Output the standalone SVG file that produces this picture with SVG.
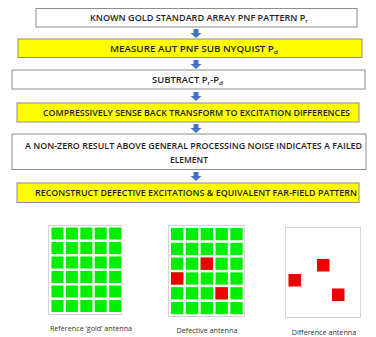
<svg xmlns="http://www.w3.org/2000/svg" width="376" height="337" viewBox="0 0 376 337">
<style>
.box{stroke:#8c8c8c;stroke-width:1}
.w{fill:#ffffff}
.y{fill:#ffff00}
.t{font-family:"Open Sans","Liberation Sans",Arial,sans-serif;font-size:8.2px;font-weight:600;fill:#1e1e1e}
.sub{font-size:5.5px}
.cap{font-family:"Open Sans","Liberation Sans",sans-serif;font-size:7.2px;fill:#333}
.g{fill:#00ee00}
.r{fill:#ee0000}
.frame{fill:#fff;stroke:#d4d4d4;stroke-width:1}
.arr{fill:#4472c4}
</style>
<defs>
<path id="dn" d="M-2.5,0 H2.5 V4 H5.5 L0,9 L-5.5,4 H-2.5 Z"/>
<g id="row5">
<rect class="g" x="0" y="0" width="12" height="12"/>
<rect class="g" x="14.4" y="0" width="12" height="12"/>
<rect class="g" x="28.8" y="0" width="12" height="12"/>
<rect class="g" x="43.2" y="0" width="12" height="12"/>
<rect class="g" x="57.6" y="0" width="12" height="12"/>
</g>
</defs>
<rect width="376" height="337" fill="#fff"/>
<g id="connectors">
<use href="#dn" class="arr" x="196" y="29"/>
<use href="#dn" class="arr" x="196" y="60"/>
<use href="#dn" class="arr" x="196" y="92"/>
<use href="#dn" class="arr" x="196" y="124"/>
<use href="#dn" class="arr" x="196" y="172"/>
</g>
<g id="n1">
<rect class="box w" x="36" y="8.5" width="321" height="18.5"/>
<text class="t" x="90" y="21" textLength="218" lengthAdjust="spacingAndGlyphs">KNOWN GOLD STANDARD ARRAY PNF PATTERN P<tspan class="sub" dy="1.5">r</tspan></text>
</g>
<g id="n2">
<rect class="box y" x="18" y="39" width="344" height="18.5"/>
<text class="t" x="110" y="52" textLength="168" lengthAdjust="spacingAndGlyphs">MEASURE AUT PNF SUB NYQUIST P<tspan class="sub" dy="1.5">d</tspan></text>
</g>
<g id="n3">
<rect class="box w" x="12" y="70" width="353" height="19"/>
<text class="t" x="152" y="83" textLength="71" lengthAdjust="spacingAndGlyphs">SUBTRACT P<tspan class="sub" dy="1.5">r</tspan><tspan dy="-1.5">-P</tspan><tspan class="sub" dy="1.5">d</tspan></text>
</g>
<g id="n4">
<rect class="box y" x="17" y="103" width="342" height="19"/>
<text class="t" x="43" y="116" textLength="307" lengthAdjust="spacingAndGlyphs">COMPRESSIVELY SENSE BACK TRANSFORM TO EXCITATION DIFFERENCES</text>
</g>
<g id="n5">
<rect class="box w" x="12" y="134" width="354" height="35.5"/>
<text class="t" x="25" y="149" textLength="337" lengthAdjust="spacingAndGlyphs">A NON-ZERO RESULT ABOVE GENERAL PROCESSING NOISE INDICATES A FAILED</text>
<text class="t" x="170" y="163" textLength="38" lengthAdjust="spacingAndGlyphs">ELEMENT</text>
</g>
<g id="n6">
<rect class="box y" x="17" y="183" width="342" height="19.5"/>
<text class="t" x="35" y="196" textLength="322" lengthAdjust="spacingAndGlyphs">RECONSTRUCT DEFECTIVE EXCITATIONS &amp; EQUIVALENT FAR-FIELD PATTERN</text>
</g>
<g id="reference-antenna">
<rect class="frame" x="48.5" y="225.5" width="73" height="89"/>
<use href="#row5" x="51.5" y="227.5"/>
<use href="#row5" x="51.5" y="242"/>
<use href="#row5" x="51.5" y="256.5"/>
<use href="#row5" x="51.5" y="271"/>
<use href="#row5" x="51.5" y="285.5"/>
<use href="#row5" x="51.5" y="300"/>
<text class="cap" x="91" y="331" text-anchor="middle">Reference ‘gold’ antenna</text>
</g>
<g id="defective-antenna">
<rect class="frame" x="168.5" y="225.5" width="76" height="91"/>
<g transform="translate(171,228) scale(1.03,1.02)">
<use href="#row5" x="0" y="0"/>
<use href="#row5" x="0" y="14.5"/>
<use href="#row5" x="0" y="29"/>
<use href="#row5" x="0" y="43.5"/>
<use href="#row5" x="0" y="58"/>
<use href="#row5" x="0" y="72.5"/>
<rect class="r" x="28.8" y="29" width="12" height="12"/>
<rect class="r" x="0" y="43.5" width="12" height="12"/>
<rect class="r" x="43.2" y="58" width="12" height="12"/>
</g>
<text class="cap" x="207" y="333" text-anchor="middle">Defective antenna</text>
</g>
<g id="difference-antenna">
<rect class="frame" x="285.5" y="227.5" width="75" height="90"/>
<rect class="r" x="317" y="259" width="12.5" height="12.5"/>
<rect class="r" x="288.5" y="274" width="12.5" height="12.5"/>
<rect class="r" x="332" y="288.5" width="12.5" height="12.5"/>
<text class="cap" x="324" y="335" text-anchor="middle">Difference antenna</text>
</g>
</svg>
